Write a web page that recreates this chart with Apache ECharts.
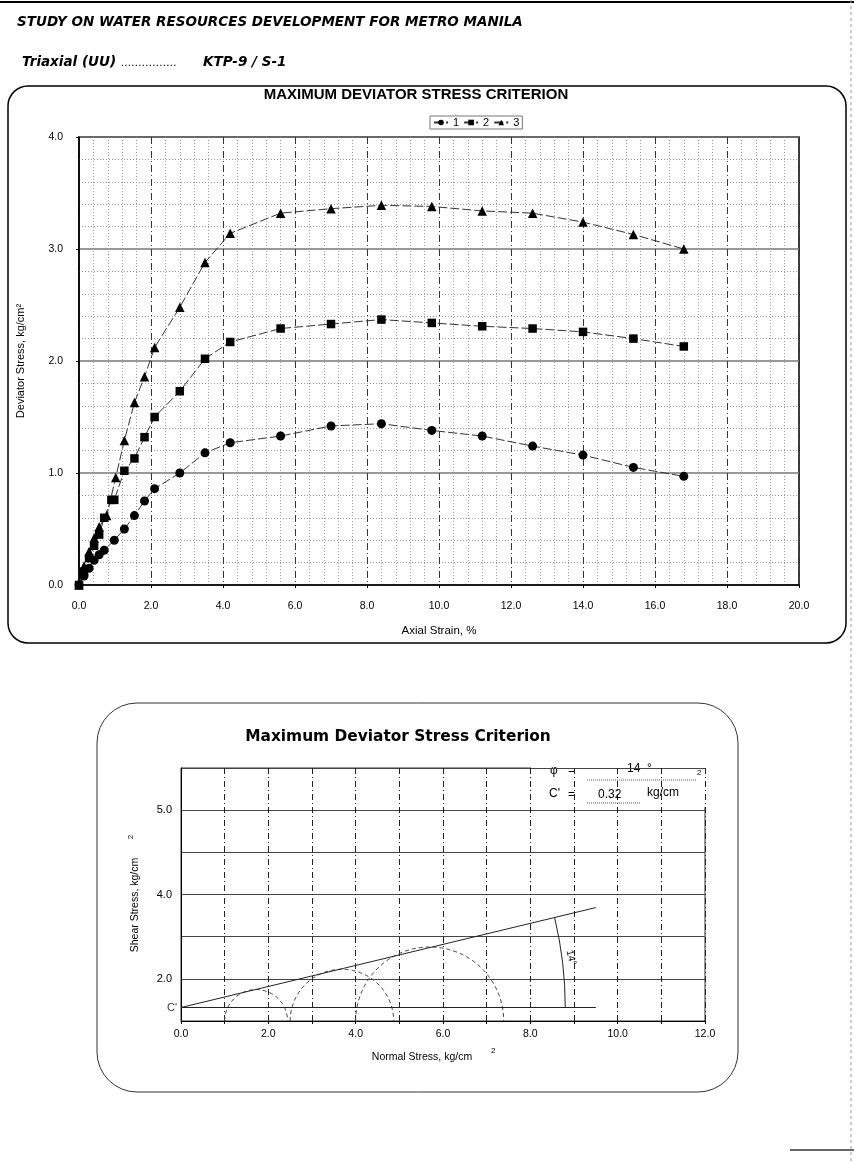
<!DOCTYPE html>
<html>
<head>
<meta charset="utf-8">
<script src="https://cdn.jsdelivr.net/npm/echarts@6/dist/echarts.min.js"></script>
<style>
html,body{margin:0;padding:0;background:#fff;}
#main{width:854px;height:1164px;}
</style>
</head>
<body>
<div id="main"></div>
<script>
// ---- upper chart: deviator stress (kg/cm2) vs axial strain (%) ----
var strain1 = [0, 0.14, 0.28, 0.42, 0.56, 0.7, 0.98, 1.26, 1.54, 1.82, 2.1, 2.8, 3.5, 4.2, 5.6, 7.0, 8.4, 9.8, 11.2, 12.6, 14.0, 15.4, 16.8];
var stress1 = [0, 0.08, 0.15, 0.22, 0.27, 0.31, 0.4, 0.5, 0.62, 0.75, 0.86, 1.0, 1.18, 1.27, 1.33, 1.42, 1.44, 1.38, 1.33, 1.24, 1.16, 1.05, 0.97];
var strain2 = [0, 0.14, 0.28, 0.42, 0.56, 0.7, 0.9, 0.98, 1.26, 1.54, 1.82, 2.1, 2.8, 3.5, 4.2, 5.6, 7.0, 8.4, 9.8, 11.2, 12.6, 14.0, 15.4, 16.8];
var stress2 = [0, 0.12, 0.24, 0.35, 0.45, 0.6, 0.76, 0.76, 1.02, 1.13, 1.32, 1.5, 1.73, 2.02, 2.17, 2.29, 2.33, 2.37, 2.34, 2.31, 2.29, 2.26, 2.2, 2.13];
var strain3 = [0, 0.14, 0.28, 0.42, 0.56, 0.77, 1.02, 1.26, 1.54, 1.82, 2.1, 2.8, 3.5, 4.2, 5.6, 7.0, 8.4, 9.8, 11.2, 12.6, 14.0, 15.4, 16.8];
var stress3 = [0, 0.17, 0.3, 0.42, 0.52, 0.62, 0.96, 1.29, 1.63, 1.86, 2.12, 2.48, 2.88, 3.14, 3.32, 3.36, 3.39, 3.38, 3.34, 3.32, 3.24, 3.13, 3.0];

// ---- lower chart: Mohr circles and failure envelope ----
var sigma3 = [1.0, 2.5, 4.0];
var sigma1 = [2.44, 4.87, 7.39];
var envelopeX = [0, 9.5];
var envelopeY = [0.32, 2.69];
var cohesion = 0.32;
var phiDeg = 14;
var shearTickLabels = {5: '5.0', 3: '4.0', 1: '2.0'};

function pairs(xs, ys) {
  var out = [];
  for (var i = 0; i < xs.length; i++) out.push([xs[i], ys[i]]);
  return out;
}

var FONT = 'Liberation Sans';
var chart = echarts.init(document.getElementById('main'), null, {renderer: 'canvas'});

var lineDash = [9, 3];
var option = {
  backgroundColor: '#fff',
  animation: false,
  legend: {
    data: ['1', '2', '3'],
    left: 430, top: 116,
    itemWidth: 14, itemHeight: 7, itemGap: 4,
    padding: [1, 3],
    borderColor: '#777', borderWidth: 1,
    textStyle: {fontFamily: FONT, fontSize: 11, color: '#000'}
  },
  grid: [
    {left: 79, top: 137, width: 720, height: 448, show: true, borderColor: '#000', borderWidth: 1.5},
    {left: 181, top: 768, width: 524, height: 253, show: true, borderColor: '#333', borderWidth: 1}
  ],
  xAxis: [{
    gridIndex: 0, type: 'value', min: 0, max: 20, interval: 2,
    name: 'Axial Strain, %', nameLocation: 'middle', nameGap: 40,
    nameTextStyle: {fontFamily: FONT, fontSize: 11.5, color: '#000'},
    axisLine: {lineStyle: {color: '#000', width: 1.5}},
    axisTick: {show: true, length: 3, lineStyle: {color: '#000'}},
    axisLabel: {fontFamily: FONT, fontSize: 10.5, color: '#000', margin: 16, formatter: function (v) { return v.toFixed(1); }},
    splitLine: {show: true, lineStyle: {color: '#333', width: 1, type: [7, 3, 1, 3]}},
    minorTick: {show: false, splitNumber: 5},
    minorSplitLine: {show: true, lineStyle: {color: '#999', width: 1, type: [1, 2]}}
  }, {
    gridIndex: 1, type: 'value', min: 0, max: 12, interval: 1,
    axisLine: {lineStyle: {color: '#000', width: 1}},
    axisTick: {show: true, length: 3, lineStyle: {color: '#000'}},
    axisLabel: {fontFamily: FONT, fontSize: 10.5, color: '#000', margin: 8,
      formatter: function (v) { return v % 2 === 0 ? v.toFixed(1) : ''; }},
    splitLine: {show: true, lineStyle: {color: '#222', width: 1, type: [6, 3, 1, 3]}}
  }],
  yAxis: [{
    gridIndex: 0, type: 'value', min: 0, max: 4, interval: 1,
    name: 'Deviator Stress, kg/cm\u00b2', nameLocation: 'middle', nameGap: 53,
    nameTextStyle: {fontFamily: FONT, fontSize: 11, color: '#000'},
    axisLine: {lineStyle: {color: '#000', width: 1.5}},
    axisTick: {show: true, length: 3, lineStyle: {color: '#000'}},
    axisLabel: {fontFamily: FONT, fontSize: 10.5, color: '#000', margin: 16, formatter: function (v) { return v.toFixed(1); }},
    splitLine: {show: true, lineStyle: {color: '#777', width: 1.5}},
    minorTick: {show: false, splitNumber: 5},
    minorSplitLine: {show: true, lineStyle: {color: '#999', width: 1, type: [1, 2]}}
  }, {
    gridIndex: 1, type: 'value', min: 0, max: 6, interval: 1,
    axisLine: {lineStyle: {color: '#000', width: 1}},
    axisTick: {show: false},
    axisLabel: {fontFamily: FONT, fontSize: 11, color: '#000', margin: 9,
      formatter: function (v) { return shearTickLabels[v] || ''; }},
    splitLine: {show: true, lineStyle: {color: '#444', width: 1.2}}
  }],
  series: [
    {name: '1', type: 'line', xAxisIndex: 0, yAxisIndex: 0, data: pairs(strain1, stress1),
      symbol: 'circle', symbolSize: 9, itemStyle: {color: '#000'}, lineStyle: {color: '#333', width: 1, type: lineDash}},
    {name: '2', type: 'line', xAxisIndex: 0, yAxisIndex: 0, data: pairs(strain2, stress2),
      symbol: 'rect', symbolSize: 8.5, itemStyle: {color: '#000'}, lineStyle: {color: '#333', width: 1, type: lineDash}},
    {name: '3', type: 'line', xAxisIndex: 0, yAxisIndex: 0, data: pairs(strain3, stress3),
      symbol: 'triangle', symbolSize: 9.5, itemStyle: {color: '#000'}, lineStyle: {color: '#333', width: 1, type: lineDash}},
    // Mohr circles
    {type: 'custom', xAxisIndex: 1, yAxisIndex: 1, clip: true, silent: true,
      data: pairs(sigma3, sigma1),
      renderItem: function (params, api) {
        var s3 = api.value(0), s1 = api.value(1);
        var c = api.coord([(s3 + s1) / 2, 0]);
        var r = api.size([(s1 - s3) / 2, 0])[0];
        return {type: 'arc', shape: {cx: c[0], cy: c[1], r: r, startAngle: Math.PI, endAngle: 2 * Math.PI},
          style: {stroke: '#444', fill: null, lineWidth: 1, lineDash: [4, 3]}};
      }},
    // failure envelope
    {type: 'line', xAxisIndex: 1, yAxisIndex: 1, data: pairs(envelopeX, envelopeY),
      symbol: 'none', lineStyle: {color: '#222', width: 1},
      markLine: {silent: true, symbol: 'none', label: {show: false},
        lineStyle: {color: '#222', width: 1, type: 'solid'},
        data: [[{coord: [0, cohesion]}, {coord: [envelopeX[1], cohesion]}]]}},
    // angle mark
    {type: 'custom', xAxisIndex: 1, yAxisIndex: 1, silent: true,
      data: [[0, cohesion, 8.8]],
      renderItem: function (params, api) {
        var v = api.coord([api.value(0), api.value(1)]);
        var r = api.size([api.value(2), 0])[0];
        var end = api.coord([envelopeX[1], envelopeY[1]]);
        var ang = Math.atan2(end[1] - v[1], end[0] - v[0]);
        var mid = ang * 0.55;
        return {type: 'group', children: [
          {type: 'arc', shape: {cx: v[0], cy: v[1], r: r, startAngle: ang, endAngle: 0},
            style: {stroke: '#222', fill: null, lineWidth: 1}},
          {type: 'text', x: v[0] + r * Math.cos(mid) + 9, y: v[1] + r * Math.sin(mid), rotation: -Math.PI / 2 + 0.25,
            style: {text: phiDeg + '\u00b0', fontFamily: FONT, fontSize: 10, fill: '#000', align: 'center', verticalAlign: 'middle'}}
        ]};
      }},
    // cohesion label
    {type: 'scatter', xAxisIndex: 1, yAxisIndex: 1, data: [[0, cohesion]], symbolSize: 0,
      label: {show: true, position: 'left', distance: 4, formatter: "C'", fontFamily: FONT, fontSize: 11, color: '#000'}}
  ],
  graphic: [
    {type: 'line', shape: {x1: 0, y1: 2, x2: 854, y2: 2}, style: {stroke: '#000', lineWidth: 2}},
    {type: 'line', shape: {x1: 851, y1: 0, x2: 851, y2: 1164}, style: {stroke: '#999', lineWidth: 1, lineDash: [3, 3]}},
    {type: 'line', shape: {x1: 790, y1: 1150, x2: 854, y2: 1150}, style: {stroke: '#333', lineWidth: 1.5}},
    {type: 'text', x: 17, y: 22, style: {text: 'STUDY ON WATER RESOURCES DEVELOPMENT FOR METRO MANILA',
      fontFamily: 'DejaVu Sans', fontWeight: 'bold', fontStyle: 'italic', fontSize: 13.5, fill: '#000', verticalAlign: 'middle'}},
    {type: 'text', x: 22, y: 62, style: {text: 'Triaxial (UU)',
      fontFamily: 'DejaVu Sans', fontWeight: 'bold', fontStyle: 'italic', fontSize: 13.5, fill: '#000', verticalAlign: 'middle'}},
    {type: 'text', x: 121, y: 63, style: {text: '................',
      fontFamily: 'DejaVu Sans', fontStyle: 'italic', fontSize: 11, fill: '#000', verticalAlign: 'middle'}},
    {type: 'text', x: 203, y: 62, style: {text: 'KTP-9 / S-1',
      fontFamily: 'DejaVu Sans', fontWeight: 'bold', fontStyle: 'italic', fontSize: 13.5, fill: '#000', verticalAlign: 'middle'}},
    {type: 'rect', shape: {x: 8, y: 86, width: 838, height: 557, r: 20}, style: {stroke: '#000', lineWidth: 1.5, fill: null}},
    {type: 'text', x: 416, y: 95, style: {text: 'MAXIMUM DEVIATOR STRESS CRITERION',
      fontFamily: FONT, fontWeight: 'bold', fontSize: 15, fill: '#000', align: 'center', verticalAlign: 'middle'}},
    {type: 'rect', shape: {x: 97, y: 703, width: 641, height: 389, r: 40}, style: {stroke: '#333', lineWidth: 1, fill: null}},
    {type: 'text', x: 398, y: 737, style: {text: 'Maximum Deviator Stress Criterion',
      fontFamily: 'DejaVu Sans', fontWeight: 'bold', fontSize: 15.4, fill: '#000', align: 'center', verticalAlign: 'middle'}},
    // white box behind the phi / C' annotation
    {type: 'rect', shape: {x: 531, y: 765, width: 177, height: 42}, style: {fill: '#fff', stroke: null}},
    {type: 'text', x: 550, y: 771, style: {text: '\u03c6', fontFamily: FONT, fontSize: 12, fill: '#000', verticalAlign: 'middle'}},
    {type: 'text', x: 568, y: 771, style: {text: '=', fontFamily: FONT, fontSize: 12, fill: '#000', verticalAlign: 'middle'}},
    {type: 'text', x: 627, y: 769, style: {text: String(phiDeg) + '  \u00b0', fontFamily: FONT, fontSize: 12, fill: '#000', verticalAlign: 'middle'}},
    {type: 'line', shape: {x1: 587, y1: 780, x2: 697, y2: 780}, style: {stroke: '#555', lineWidth: 1, lineDash: [1, 1]}},
    {type: 'text', x: 549, y: 794, style: {text: "C'", fontFamily: FONT, fontSize: 12, fill: '#000', verticalAlign: 'middle'}},
    {type: 'text', x: 568, y: 795, style: {text: '=', fontFamily: FONT, fontSize: 12, fill: '#000', verticalAlign: 'middle'}},
    {type: 'text', x: 598, y: 795, style: {text: String(cohesion), fontFamily: FONT, fontSize: 12, fill: '#000', verticalAlign: 'middle'}},
    {type: 'line', shape: {x1: 587, y1: 803, x2: 640, y2: 803}, style: {stroke: '#555', lineWidth: 1, lineDash: [1, 1]}},
    {type: 'text', x: 647, y: 793, style: {text: 'kg/cm', fontFamily: FONT, fontSize: 12, fill: '#000', verticalAlign: 'middle'}},
    {type: 'text', x: 697, y: 773, style: {text: '2', fontFamily: FONT, fontSize: 8, fill: '#000', verticalAlign: 'middle'}},
    // lower chart axis titles
    {type: 'text', x: 135, y: 905, rotation: Math.PI / 2, style: {text: 'Shear Stress, kg/cm', fontFamily: FONT, fontSize: 10.5, fill: '#000', align: 'center', verticalAlign: 'middle'}},
    {type: 'text', x: 131, y: 837, rotation: Math.PI / 2, style: {text: '2', fontFamily: FONT, fontSize: 8, fill: '#000', align: 'center', verticalAlign: 'middle'}},
    {type: 'text', x: 422, y: 1057, style: {text: 'Normal Stress, kg/cm', fontFamily: FONT, fontSize: 10.5, fill: '#000', align: 'center', verticalAlign: 'middle'}},
    {type: 'text', x: 491, y: 1051, style: {text: '2', fontFamily: FONT, fontSize: 8, fill: '#000', verticalAlign: 'middle'}}
  ]
};
chart.setOption(option);
</script>
</body>
</html>
